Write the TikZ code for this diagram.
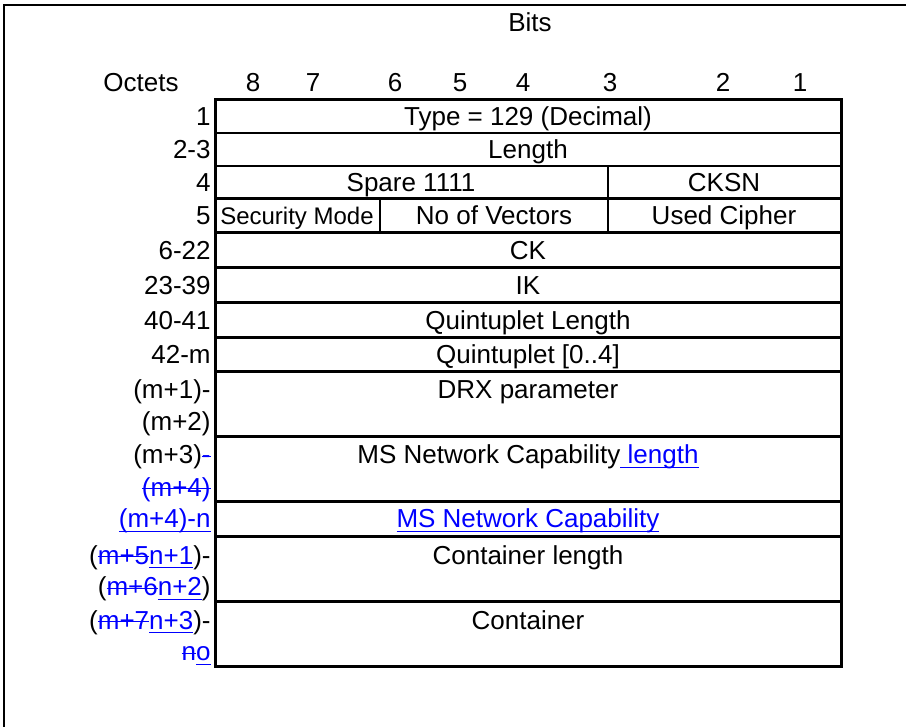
\documentclass[tikz,border=0pt]{standalone}
\usepackage{fontspec}
\setmainfont{Liberation Sans}
\definecolor{chgblue}{RGB}{0,0,255}
\newsavebox{\chgbox}
\newcommand{\chgins}[1]{{\color{chgblue}\sbox{\chgbox}{#1}%
  \rlap{\rule[-2.2pt]{\wd\chgbox}{0.8pt}}\usebox{\chgbox}}}
\newcommand{\chgdel}[1]{{\color{chgblue}\sbox{\chgbox}{#1}%
  \rlap{\rule[3.3pt]{\wd\chgbox}{0.8pt}}\usebox{\chgbox}}}

\begin{document}
\begin{tikzpicture}
  [x=0.5pt,y=-0.5pt,font=\fontsize{13}{16}\selectfont,
   txt/.style={anchor=base,inner sep=0pt},
   lbl/.style={anchor=base east,inner sep=0pt},
   heavy/.style={line width=1.5pt},
   light/.style={line width=0.6pt}]
\useasboundingbox (0,0) rectangle (906,727);
\draw[line width=1pt] (4,740) -- (4,5) -- (920,5);

% header
\node[txt] (bits) at (530,32) {Bits};
\node[txt] (octets) at (141,92) {Octets};
\foreach \b/\x in {8/253,7/313,6/395,5/460,4/523,3/610,2/723,1/800}
  \node[txt] (bit\b) at (\x,92) {\b};

% table lines
\draw[heavy] (215,100) rectangle (841,666);
\draw[light] (215,133) -- (841,133) (215,166) -- (841,166);
\foreach \y in {199,233,268,303,338,372,437,502,536,601}
  \draw[heavy] (215,\y) -- (841,\y);
\draw[light] (608,166) -- (608,233) (380,199) -- (380,233);

% fields
\node[txt] (type) at (528,126) {Type = 129 (Decimal)};
\node[txt] (len) at (528,159) {Length};
\node[txt] (spare) at (411,192) {Spare 1111};
\node[txt] (cksn) at (724,192) {CKSN};
\node[txt,font=\fontsize{12}{14}\selectfont] (secmode) at (297,225) {Security Mode};
\node[txt] (novec) at (494,225) {No of Vectors};
\node[txt] (cipher) at (724,225) {Used Cipher};
\node[txt] (ck) at (528,260) {CK};
\node[txt] (ik) at (528,295) {IK};
\node[txt] (qlen) at (528,330) {Quintuplet Length};
\node[txt] (quint) at (528,364) {Quintuplet [0..4]};
\node[txt] (drx) at (528,399) {DRX parameter};
\node[txt] (msnclen) at (528,464) {MS Network Capability\chgins{ length}};
\node[txt] (msnc) at (528,528) {\chgins{MS Network Capability}};
\node[txt] (contlen) at (528,564) {Container length};
\node[txt] (cont) at (528,629) {Container};

% octet labels
\node[lbl] (o1) at (211,126) {1};
\node[lbl] (o2) at (211,159) {2-3};
\node[lbl] (o4) at (211,192) {4};
\node[lbl] (o5) at (211,225) {5};
\node[lbl] (o6) at (211,260) {6-22};
\node[lbl] (o23) at (211,295) {23-39};
\node[lbl] (o40) at (211,330) {40-41};
\node[lbl] (o42) at (211,364) {42-m};
\node[lbl] (om1) at (211,399) {(m+1)-};
\node[lbl] (om2) at (211,431) {(m+2)};
\node[lbl] (om3) at (211,464) {(m+3)\chgdel{-}};
\node[lbl] (om4) at (211,496) {\chgdel{(m+4)}};
\node[lbl] (om4n) at (211,528) {\chgins{(m+4)-n}};
\node[lbl] (on1) at (211,564) {(\chgdel{m+5}\chgins{n+1})-};
\node[lbl] (on2) at (211,596) {(\chgdel{m+6}\chgins{n+2})};
\node[lbl] (on3) at (211,629) {(\chgdel{m+7}\chgins{n+3})-};
\node[lbl] (ono) at (211,661) {\chgdel{n}\chgins{o}};
\end{tikzpicture}
\end{document}
